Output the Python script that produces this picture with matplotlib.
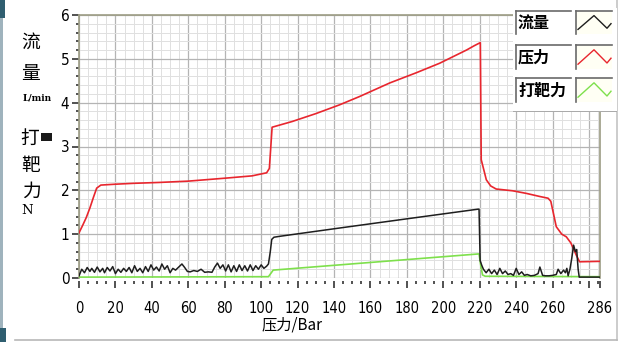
import matplotlib
matplotlib.use("Agg")
import matplotlib.pyplot as plt
from matplotlib.ticker import MultipleLocator, FixedLocator
from matplotlib.patches import Rectangle

# ---------------- data ----------------
flow_x = [0, 1.5, 3, 4.5, 6, 7, 8.5, 10, 11.5, 13, 14, 15.5, 17, 18.5, 20, 21.5, 23, 24.5,
          26, 27.5, 29, 30.5, 32, 33.5, 35, 36.5, 38, 39.5, 41, 42.5, 44, 45.5, 47, 48.5,
          50, 51.5, 53, 55, 56.5, 58, 59.5, 61, 63, 65, 67, 69, 71, 73, 74.5, 76, 77.5,
          79, 80.5, 82, 83.5, 85, 86.5, 88, 89.5, 91, 92.5, 94, 95.5, 97, 98.5, 100, 101.5,
          103, 104, 105, 105.8, 107, 110, 143, 180, 219, 219.6,
          220.2, 221, 222, 223.5, 225, 226.5, 228, 229.5, 231, 232.5, 234, 235.5, 237,
          238.5, 240, 241.5, 243, 244.5, 246, 248, 250, 252, 253, 254.5, 256, 258, 260,
          262, 263, 264.5, 266, 267, 267.8, 268.5, 269.5, 270.5, 271.5, 272.5, 273.2,
          274, 274.6, 286]
flow_y = [0.05, 0.20, 0.12, 0.24, 0.15, 0.22, 0.13, 0.25, 0.14, 0.22, 0.12, 0.24, 0.16,
          0.26, 0.10, 0.20, 0.13, 0.22, 0.15, 0.24, 0.12, 0.28, 0.15, 0.22, 0.12, 0.26,
          0.15, 0.30, 0.18, 0.25, 0.16, 0.32, 0.20, 0.28, 0.12, 0.22, 0.18, 0.26, 0.32,
          0.24, 0.15, 0.14, 0.17, 0.15, 0.20, 0.13, 0.14, 0.13, 0.25, 0.34, 0.22, 0.30,
          0.16, 0.30, 0.14, 0.28, 0.15, 0.30, 0.17, 0.28, 0.16, 0.30, 0.17, 0.28, 0.20,
          0.30, 0.22, 0.27, 0.32, 0.60, 0.88, 0.93, 0.95, 1.14, 1.35, 1.57, 1.57,
          0.40, 0.30, 0.20, 0.12, 0.20, 0.10, 0.18, 0.08, 0.22, 0.10, 0.16, 0.08, 0.10,
          0.06, 0.22, 0.08, 0.14, 0.06, 0.08, 0.05, 0.06, 0.10, 0.25, 0.06, 0.05, 0.05,
          0.06, 0.08, 0.20, 0.10, 0.18, 0.12, 0.22, 0.05, 0.20, 0.45, 0.75, 0.60, 0.65,
          0.20, 0.02, 0.02]

press_x = [0, 2, 4, 6, 8, 9.7, 12, 20, 30, 44, 60, 81, 95, 103, 104.5, 105.3, 106, 117,
           130, 143, 154, 170.6, 185, 198, 212.7, 217, 220.3, 220.8, 223.6, 226, 229, 238,
           245.6, 252.9, 257.5, 259, 262, 265, 267.5, 270, 273, 274.8, 286]
press_y = [1.03, 1.20, 1.38, 1.60, 1.85, 2.05, 2.12, 2.14, 2.16, 2.18, 2.21, 2.28, 2.33,
           2.40, 2.50, 3.00, 3.44, 3.57, 3.75, 3.95, 4.14, 4.45, 4.68, 4.90, 5.20, 5.30,
           5.37, 2.70, 2.24, 2.10, 2.03, 1.99, 1.93, 1.86, 1.82, 1.75, 1.17, 1.00, 0.94,
           0.80, 0.52, 0.37, 0.38]

force_x = [0, 104, 106.6, 219.6, 220.5, 221.5, 223, 286]
force_y = [0.02, 0.03, 0.18, 0.55, 0.30, 0.07, 0.04, 0.03]

x_major = [0, 20, 40, 60, 80, 100, 120, 140, 160, 180, 200, 220, 240, 260, 280, 286]
x_labels = ["0", "20", "40", "60", "80", "100", "120", "140", "160", "180", "200",
            "220", "240", "260", "", "286"]
legend_names = ["流量", "压力", "打靶力"]
colors = ["#1e1e1e", "#e8262e", "#7ee04c"]

# ---------------- figure ----------------
W, H = 627, 342
fig = plt.figure(figsize=(W / 100, H / 100), dpi=100)
fig.patch.set_facecolor("white")

def fx(px):
    return px / W

def fy(py):
    return 1 - py / H

CJK = ["Noto Sans CJK SC", "DejaVu Sans"]

ax = fig.add_axes([fx(79), fy(278), fx(600) - fx(79), fy(15) - fy(278)])
ax.set_facecolor("white")
ax.plot(press_x, press_y, color=colors[1], lw=1.2, zorder=3)
ax.plot(force_x, force_y, color=colors[2], lw=1.2, zorder=3)
ax.plot(flow_x, flow_y, color=colors[0], lw=1.1, zorder=4)

ax.set_xlim(0, 286)
ax.set_ylim(0, 6)
ax.xaxis.set_major_locator(FixedLocator(x_major))
ax.set_xticklabels(x_labels)
ax.xaxis.set_minor_locator(MultipleLocator(5))
ax.yaxis.set_major_locator(MultipleLocator(1))
ax.yaxis.set_minor_locator(MultipleLocator(0.2))

ax.grid(which="major", color="#b4b4b4", lw=0.9, zorder=0)
ax.grid(which="minor", color="#e0e0e0", lw=0.7, zorder=0)
ax.set_axisbelow(True)

for s in ["top", "left", "right"]:
    ax.spines[s].set_color("#9c9c84")
    ax.spines[s].set_linewidth(1.2)
ax.spines["bottom"].set_position(("outward", 2.5))
ax.spines["bottom"].set_visible(False)

ax.tick_params(axis="x", which="major", length=5, width=1.1, color="#222222",
               direction="out", pad=9, labelsize=10.5)
ax.tick_params(axis="x", which="minor", length=2.5, width=1.1, color="#222222",
               direction="out")
ax.tick_params(axis="y", which="major", length=5, width=1.1, color="#222222",
               direction="out", pad=2, labelsize=11)
ax.tick_params(axis="y", which="minor", length=2, width=1.1, color="#222222",
               direction="out")
for lab in ax.get_xticklabels() + ax.get_yticklabels():
    lab.set_fontfamily("DejaVu Sans")
    lab.set_fontstretch("condensed")

# x label
fig.text(fx(292), fy(325), "压力/Bar", family=CJK, fontsize=11, ha="center", va="center")

# y label (vertical stacked)
fig.text(fx(31), fy(42), "流", family=CJK, fontsize=13.5, ha="center", va="center")
fig.text(fx(31), fy(74), "量", family=CJK, fontsize=13.5, ha="center", va="center")
fig.text(fx(37), fy(98), "L/min", family="DejaVu Serif", fontsize=6.5,
         fontweight="bold", ha="center", va="center")
fig.text(fx(30), fy(138), "打", family=CJK, fontsize=13.5, ha="center", va="center")
fig.text(fx(31), fy(166), "靶", family=CJK, fontsize=13.5, ha="center", va="center")
fig.text(fx(31), fy(191), "力", family=CJK, fontsize=13.5, ha="center", va="center")
fig.text(fx(27), fy(211), "N", family="DejaVu Serif", fontsize=9.5, ha="center", va="center")

# ---------------- legend panel ----------------
lg = fig.add_axes([fx(513), fy(112), fx(617) - fx(513), fy(8) - fy(112)])
lg.set_xlim(513, 617)
lg.set_ylim(112, 8)
lg.axis("off")
lg.add_patch(Rectangle((513, 8), 104, 104, facecolor="white", edgecolor="none", zorder=0))
lg.plot([513, 617], [111.5, 111.5], color="#9a9a9a", lw=1.2)
rows = [(11, 34), (45, 69), (78, 102)]
zig = [(578, 0.8), (594, 0.2), (607, 0.75), (611, 0.55)]
for (t, b), name, c in zip(rows, legend_names, colors):
    lg.plot([516, 571], [t, t], color="#6a6a6a", lw=1.2)
    lg.plot([516, 516], [t, b], color="#6a6a6a", lw=1.2)
    lg.text(518, (t + b) / 2 + 0.5, name, family=CJK, fontsize=11.5, fontweight="bold",
            ha="left", va="center")
    lg.add_patch(Rectangle((576, t), 36, b - t, facecolor="#fffff4", edgecolor="none"))
    lg.plot([576, 612], [t, t], color="#6a6a6a", lw=1.2)
    lg.plot([576, 576], [t, b], color="#6a6a6a", lw=1.2)
    lg.plot([p[0] for p in zig], [t + p[1] * (b - t) for p in zig], color=c, lw=1.0)

# ---------------- window decorations ----------------
deco = fig.add_axes([0, 0, 1, 1], zorder=-1)
deco.set_xlim(0, W)
deco.set_ylim(H, 0)
deco.axis("off")
deco.add_patch(Rectangle((0, 0), 5, 18, facecolor="#2f5e70", edgecolor="none"))
deco.add_patch(Rectangle((0, 18), 2.5, 310, facecolor="#9fb3bd", edgecolor="none"))
deco.add_patch(Rectangle((0, 328), 6, 14, facecolor="#2f5e70", edgecolor="none"))
deco.add_patch(Rectangle((41, 133), 11, 8, facecolor="#1a1a1a", edgecolor="none"))
deco.plot([617, 617], [0, 340], color="#c4c4c4", lw=1.2)
deco.plot([15, 617], [339.5, 339.5], color="#b8b8b8", lw=1.2)

fig.savefig("out.png", dpi=100)
